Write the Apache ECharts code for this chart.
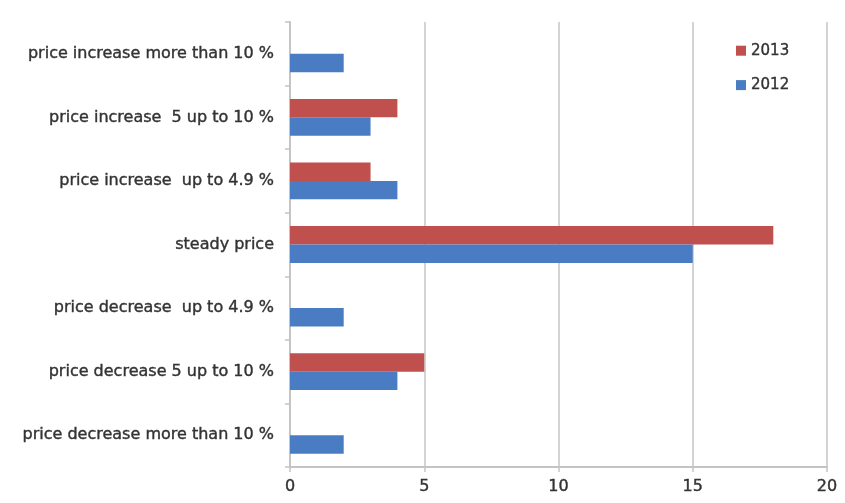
<!DOCTYPE html>
<html>
<head>
<meta charset="utf-8">
<script src="https://cdn.jsdelivr.net/npm/echarts@6/dist/echarts.min.js"></script>
<style>
  html, body { margin: 0; padding: 0; background: #fff; }
  #chart { width: 845px; height: 503px; }
</style>
</head>
<body>
<div id="chart"></div>
<script>
// Price change categories, listed bottom to top
const categories = [
  'price decrease more than 10 %',
  'price decrease 5 up to 10 %',
  'price decrease  up to 4.9 %',
  'steady price',
  'price increase  up to 4.9 %',
  'price increase  5 up to 10 %',
  'price increase more than 10 %'
];
const values2012 = [2, 4, 2, 15, 4, 3, 2];
const values2013 = [0, 5, 0, 18, 3, 4, 0];
const xTicks = [0, 5, 10, 15, 20];

const chart = echarts.init(document.getElementById('chart'));
const textColor = '#333333';
const lineColor = '#c4c4c4';
const font = 'DejaVu Sans, sans-serif';
// a thin outline in the text colour gives the labels a medium weight
const medium = { textBorderColor: textColor, textBorderWidth: 0.4 };

chart.setOption({
  animation: false,
  textStyle: { fontFamily: font },
  legend: {
    orient: 'vertical',
    left: 731,
    top: 38,
    itemWidth: 10,
    itemHeight: 10,
    itemGap: 19,
    icon: 'rect',
    data: ['2013', '2012'],
    textStyle: Object.assign({ color: textColor, fontSize: 15, fontFamily: font }, medium)
  },
  grid: { left: 290, right: 18, top: 22, bottom: 36 },
  xAxis: {
    type: 'value',
    min: xTicks[0],
    max: xTicks[xTicks.length - 1],
    interval: 5,
    axisLine: { show: true, lineStyle: { color: lineColor, width: 2 } },
    axisTick: { show: true, length: 5, lineStyle: { color: lineColor, width: 1.5 } },
    axisLabel: Object.assign({ color: textColor, fontSize: 16, margin: 12, fontFamily: font }, medium),
    splitLine: { show: true, lineStyle: { color: lineColor, width: 1.5 } }
  },
  yAxis: {
    type: 'category',
    data: categories,
    axisLine: { show: true, lineStyle: { color: lineColor, width: 2 } },
    axisTick: { show: true, length: 5, lineStyle: { color: lineColor, width: 1.5 } },
    axisLabel: Object.assign({ color: textColor, fontSize: 16, margin: 16, fontFamily: font }, medium)
  },
  series: [
    {
      name: '2013',
      type: 'bar',
      data: values2013,
      itemStyle: { color: '#c0504d' },
      barGap: '0%',
      barCategoryGap: '42%'
    },
    {
      name: '2012',
      type: 'bar',
      data: values2012,
      itemStyle: { color: '#4a7cc4' },
      barGap: '0%',
      barCategoryGap: '42%'
    }
  ]
});
</script>
</body>
</html>
